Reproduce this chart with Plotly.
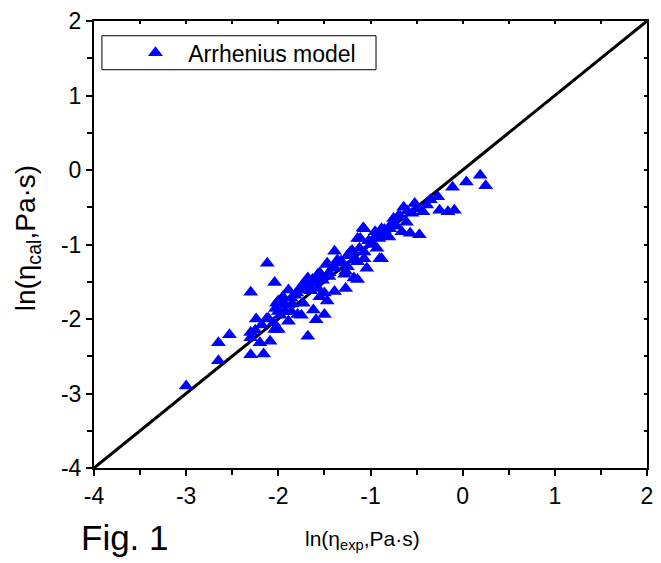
import plotly.graph_objects as go

# ln(eta_exp) vs ln(eta_cal)
ln_eta_exp = [
    -3.00, -2.65, -2.65, -2.53, -2.30, -2.30, -2.30, -2.16, -2.12, -2.04,
    -2.24, -2.13, -2.20, -2.09, -2.04, -2.30, -1.89, -2.00, -2.11, -1.86,
    -2.00, -1.86, -1.77, -1.73, -1.68, -1.68, -1.59, -1.57, -1.59, -1.50,
    -1.47, -1.50, -1.39, -1.45, -1.27, -1.14, -1.04, -0.88, -1.39, -1.47,
    -1.41, -1.36, -1.27, -1.18, -1.22, -1.07, -0.98, -0.91, -1.14, -1.08,
    -0.95, -0.84, -0.93, -0.88, -0.77, -0.66, -0.57, -0.47, -0.61, -0.64,
    -0.52, -0.39, -0.43, -0.27, -0.25, -0.16, -0.09, -0.11, 0.04, 0.19,
    0.25, -2.00, -1.97, -2.02, -1.93, -1.79, -1.68, -1.71, -1.63, -1.57,
    -1.47, -1.28, -1.18, -1.14, -1.07, -1.07, -1.11, -0.90, -0.86, -0.79,
    -1.89, -2.03, -1.95, -1.82, -1.75, -1.62, -1.55, -1.33, -1.25, -1.00,
    -0.72, -0.70, -0.55, -0.35, -2.05, -1.98, -1.92, -1.85, -1.80, -1.72,
    -1.65, -1.60, -1.52, -1.45, -1.40, -1.32, -1.25, -1.20, -1.12, -1.02,
    -0.95, -0.85, -0.80, -0.75, -0.68, -0.60, -0.50, -1.75, -1.62, -1.55,
    -2.18, -2.25,
]
ln_eta_cal = [
    -2.90, -2.32, -2.56, -2.21, -1.64, -2.18, -2.48, -2.47, -1.25, -1.51,
    -2.00, -2.00, -2.32, -2.30, -2.14, -2.25, -1.61, -1.76, -1.99, -1.90,
    -1.90, -1.72, -1.61, -1.79, -1.54, -1.45, -1.45, -1.59, -2.01, -1.94,
    -1.76, -1.65, -1.63, -1.43, -1.59, -1.47, -1.32, -1.19, -1.09, -1.25,
    -1.32, -1.21, -1.36, -1.21, -1.10, -1.10, -0.99, -0.92, -0.92, -0.78,
    -0.83, -0.87, -1.05, -0.79, -0.72, -0.83, -0.85, -0.87, -0.70, -0.50,
    -0.45, -0.47, -0.56, -0.36, -0.54, -0.56, -0.54, -0.23, -0.16, -0.07,
    -0.21, -2.14, -1.76, -1.79, -1.90, -1.94, -2.23, -1.50, -1.47, -1.40,
    -1.27, -1.40, -1.45, -1.23, -1.19, -0.79, -0.92, -1.19, -0.83, -0.79,
    -2.03, -1.86, -1.70, -1.68, -1.56, -1.52, -1.38, -1.25, -1.15, -1.00,
    -0.75, -0.62, -0.58, -0.40, -2.05, -1.95, -1.82, -1.80, -1.65, -1.58,
    -1.62, -1.50, -1.48, -1.38, -1.30, -1.22, -1.30, -1.08, -1.05, -0.95,
    -0.90, -0.80, -0.90, -0.65, -0.62, -0.55, -0.52, -1.95, -1.88, -1.70,
    -2.08, -2.15,
]
diag = [-4, 2]
tick_vals = [-4, -3, -2, -1, 0, 1, 2]
tick_text = ["-4", "-3", "-2", "-1", "0", "1", "2"]

FONT = "Liberation Sans, Arial, sans-serif"

fig = go.Figure()
fig.add_trace(go.Scatter(
    x=diag, y=diag, mode="lines", line=dict(color="black", width=3),
    showlegend=False, hoverinfo="skip"))
fig.add_trace(go.Scatter(
    x=ln_eta_exp, y=ln_eta_cal, mode="markers",
    name="\u00a0\u00a0Arrhenius model",
    marker=dict(symbol="triangle-up", size=13, color="#0000FF")))
# helper trace for the top/right tick axes
fig.add_trace(go.Scatter(x=[None], y=[None], xaxis="x2", yaxis="y2",
                         showlegend=False, hoverinfo="skip"))

axis_common = dict(
    showgrid=False, zeroline=False, showline=True, linecolor="black",
    linewidth=2, mirror=True, ticks="outside", ticklen=6, tickwidth=2,
    tickcolor="black", tickfont=dict(family=FONT, size=23, color="black"),
    minor=dict(dtick=0.5, ticks="outside", ticklen=5, tickwidth=2,
               tickcolor="black"),
)

fig.update_layout(
    width=661, height=563,
    margin=dict(l=94, r=8, t=18, b=95),
    plot_bgcolor="white", paper_bgcolor="white",
    font=dict(family=FONT, color="black"),
    xaxis=dict(range=[-4, 2], tickvals=tick_vals, ticktext=tick_text,
               **axis_common),
    yaxis=dict(range=[-4, 2], tickvals=tick_vals, ticktext=tick_text,
               **axis_common),
    xaxis2=dict(range=[-4, 2], overlaying="x", side="top", anchor="y",
                showgrid=False, zeroline=False, showticklabels=False,
                ticks="inside", ticklen=3, tickwidth=2, tickcolor="black",
                dtick=0.5, tick0=-4),
    yaxis2=dict(range=[-4, 2], overlaying="y", side="right", anchor="x",
                showgrid=False, zeroline=False, showticklabels=False,
                ticks="inside", ticklen=3, tickwidth=2, tickcolor="black",
                dtick=0.5, tick0=-4),
    legend=dict(x=0.075, y=0.929, xanchor="left", yanchor="middle",
                bgcolor="rgba(0,0,0,0)", borderwidth=0,
                font=dict(family=FONT, size=23, color="black")),
    shapes=[dict(type="rect", xref="paper", yref="paper",
                 x0=0.0143, x1=0.51, y0=0.891, y1=0.967,
                 line=dict(color="black", width=1))],
    annotations=[
        dict(text="ln(η<sub>cal</sub>,Pa·s)", xref="paper", yref="paper",
             x=-0.12, y=0.513, xanchor="center", yanchor="middle",
             textangle=-90, showarrow=False,
             font=dict(family=FONT, size=28, color="black")),
        dict(text="ln(η<sub>exp</sub>,Pa·s)", xref="paper", yref="paper",
             x=0.485, y=-0.162, xanchor="center", yanchor="middle",
             showarrow=False,
             font=dict(family=FONT, size=21, color="black")),
        dict(text="Fig. 1", xref="paper", yref="paper",
             x=-0.027, y=-0.156, xanchor="left", yanchor="middle",
             showarrow=False,
             font=dict(family=FONT, size=35, color="black")),
    ],
)

fig.write_html("out.html")
